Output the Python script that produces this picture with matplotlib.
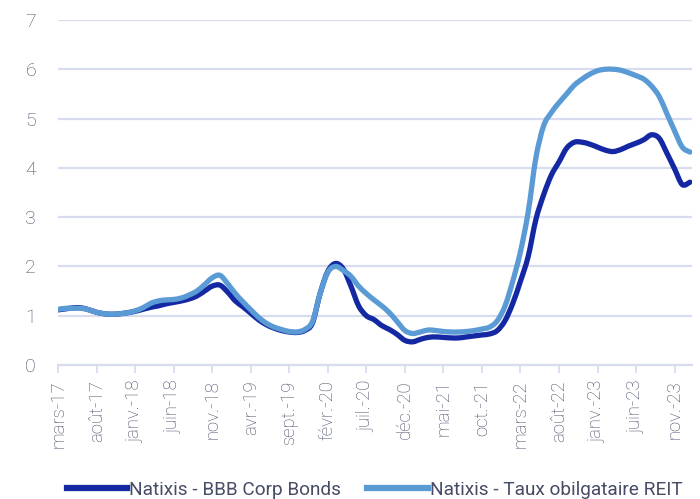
import numpy as np
import matplotlib.pyplot as plt
from matplotlib.path import Path
from matplotlib.patches import PathPatch
from matplotlib.lines import Line2D

# Spreads mensuels, mars-17 -> janv.-24
bbb = [1.12, 1.14, 1.16, 1.16, 1.12, 1.07, 1.04, 1.03, 1.04, 1.06,
       1.09, 1.13, 1.17, 1.20, 1.24, 1.27, 1.30, 1.34, 1.40, 1.50,
       1.60, 1.62, 1.48, 1.30, 1.18, 1.05, 0.92, 0.82, 0.75, 0.70,
       0.67, 0.66, 0.70, 0.85, 1.45, 1.90, 2.06, 1.95, 1.60, 1.20,
       1.00, 0.92, 0.80, 0.72, 0.62, 0.50, 0.47, 0.52, 0.56, 0.57,
       0.56, 0.55, 0.55, 0.57, 0.59, 0.61, 0.63, 0.70, 0.90, 1.25,
       1.70, 2.20, 2.95, 3.45, 3.85, 4.12, 4.40, 4.52, 4.52, 4.48,
       4.42, 4.36, 4.33, 4.37, 4.44, 4.50, 4.57, 4.67, 4.60, 4.30,
       3.98, 3.66, 3.71]
reit = [1.13, 1.15, 1.15, 1.15, 1.12, 1.07, 1.04, 1.03, 1.04, 1.06,
        1.10, 1.16, 1.25, 1.30, 1.32, 1.33, 1.36, 1.42, 1.50, 1.63,
        1.77, 1.82, 1.65, 1.45, 1.28, 1.12, 0.97, 0.85, 0.77, 0.72,
        0.68, 0.67, 0.72, 0.88, 1.45, 1.88, 2.00, 1.92, 1.80, 1.60,
        1.45, 1.32, 1.20, 1.06, 0.88, 0.70, 0.64, 0.67, 0.71, 0.70,
        0.68, 0.67, 0.67, 0.68, 0.70, 0.73, 0.77, 0.90, 1.20, 1.70,
        2.30, 3.10, 4.20, 4.85, 5.12, 5.32, 5.50, 5.68, 5.80, 5.90,
        5.97, 6.00, 6.00, 5.98, 5.93, 5.87, 5.80, 5.66, 5.45, 5.10,
        4.75, 4.42, 4.32]
tick_labels = ['mars-17', 'août-17', 'janv.-18', 'juin-18', 'nov.-18',
               'avr.-19', 'sept.-19', 'févr.-20', 'juil.-20', 'déc.-20',
               'mai-21', 'oct.-21', 'mars-22', 'août-22', 'janv.-23',
               'juin-23', 'nov.-23']
series_names = ['Natixis - BBB Corp Bonds', 'Natixis - Taux obilgataire REIT']
colors = ['#1428a3', '#5b9bd5']

plt.rcParams['font.family'] = ['Roboto', 'DejaVu Sans']
txt = '#464b66'
grid_col = '#d7dcf0'


def smooth_path(xs, ys):
    # courbe lissée (bezier) passant par chaque point mensuel
    p = np.column_stack([xs, ys]).astype(float)
    ext = np.vstack([p[0], p, p[-1]])
    verts = [p[0]]
    codes = [Path.MOVETO]
    for i in range(len(p) - 1):
        a, b, c, d = ext[i], ext[i + 1], ext[i + 2], ext[i + 3]
        verts += [b + (c - a) / 6, c - (d - b) / 6, c]
        codes += [Path.CURVE4] * 3
    return Path(verts, codes)


fig = plt.figure(figsize=(7, 4.99), dpi=100)
ax = fig.add_axes([0.083, 0.2685, 0.906, 0.6915])

x = np.arange(len(bbb))
for ys, col in zip([bbb, reit], colors):
    ax.add_patch(PathPatch(smooth_path(x, ys), fill=False, edgecolor=col,
                           lw=3.8, joinstyle='round', capstyle='round'))

ax.set_ylim(0, 7)
ax.set_xlim(0, 82.3)
ax.set_yticks(range(8))
ax.yaxis.grid(True, color=grid_col, lw=1.6)
ax.set_axisbelow(True)
for s in ['top', 'right', 'left']:
    ax.spines[s].set_visible(False)
ax.spines['bottom'].set_color(grid_col)
ax.spines['bottom'].set_linewidth(1.6)

ax.set_xticks(np.arange(0, len(bbb), 5))
ax.set_xticklabels(tick_labels, rotation=90, fontsize=13.3,
                   fontweight='light', color=txt)
ax.tick_params(axis='x', length=6, width=1.3, color=grid_col, pad=5)
ax.tick_params(axis='y', length=0, pad=16, labelsize=14, labelcolor=txt)
for t in ax.get_yticklabels():
    t.set_fontweight('light')

handles = [Line2D([], [], color=c, lw=4.5) for c in colors]
leg = fig.legend(handles, series_names, loc='center',
                 bbox_to_anchor=(0.535, 0.019), ncol=2, frameon=False,
                 prop={'size': 13.7},
                 handlelength=3.2, handletextpad=0.1, columnspacing=1.35)
for t in leg.get_texts():
    t.set_color(txt)

fig.savefig('out.png', dpi=100)
